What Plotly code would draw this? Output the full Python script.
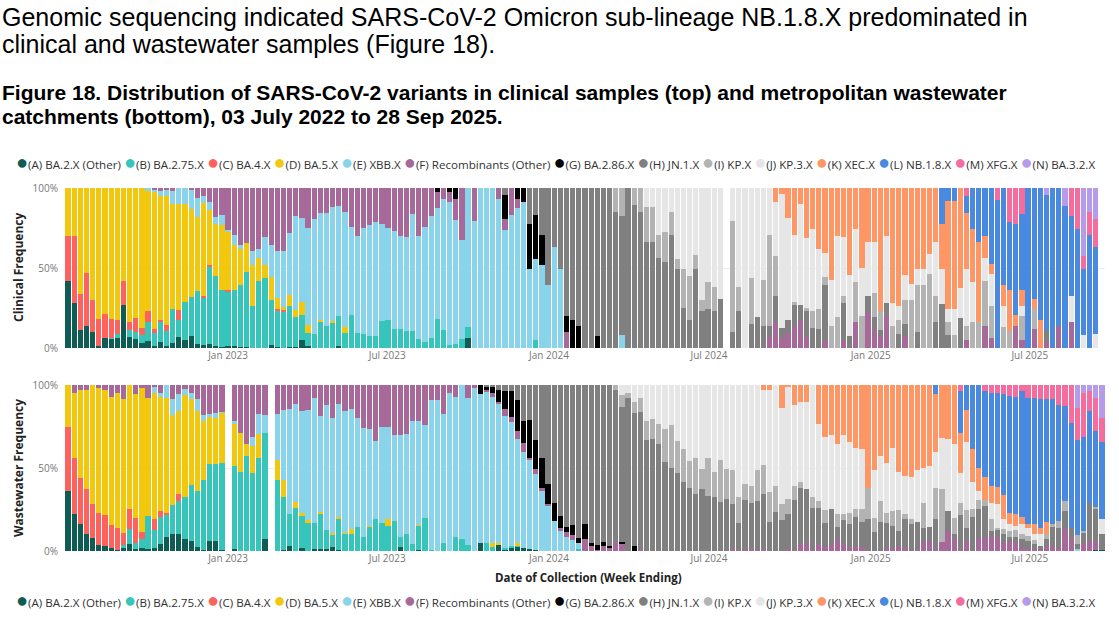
import pandas as pd
import plotly.graph_objects as go
from plotly.subplots import make_subplots

N_WEEKS = 169
week_ending = pd.date_range("2022-07-03", periods=N_WEEKS, freq="7D")

variant_names = [
    "(A) BA.2.X (Other)", "(B) BA.2.75.X", "(C) BA.4.X", "(D) BA.5.X", "(E) XBB.X",
    "(F) Recombinants (Other)", "(G) BA.2.86.X", "(H) JN.1.X", "(I) KP.X", "(J) KP.3.X",
    "(K) XEC.X", "(L) NB.1.8.X", "(M) XFG.X", "(N) BA.3.2.X",
]
variant_colors = [
    "#0F5C55", "#36C5BA", "#FD625E", "#F2C80F", "#8AD4EB",
    "#A66999", "#000000", "#808080", "#B3B3B3", "#E6E6E6",
    "#FE9666", "#4A89E0", "#F46D9E", "#B59BEA",
]
tick_dates = ["2023-01-01", "2023-07-01", "2024-01-01", "2024-07-01", "2025-01-01", "2025-07-01"]
y_ticks = [0, 50, 100]
y_tick_text = ["0%", "50%", "100%"]


def weeks(*parts):
    # runs of (first week index, weekly values); every other week is 0
    out = [0.0] * N_WEEKS
    for start, vals in parts:
        out[start:start + len(vals)] = vals
    return out


# ---- clinical samples (% of week) ----
clin_a = weeks((0, [42, 28, 11, 14, 10, 1.5, 6, 6, 6, 27,
                    7, 5.6, 3, 4.4, 1.5, 3.5, 1, 3, 7, 5,
                    7.7, 2.7, 2, 2.7, 1, 0.6, 1.5, 1, 0.6, 0.4,
                    0, 0, 0, 2.1, 0.5, 0, 0.4, 0.6, 4.8, 1.5,
                    0, 0, 0, 0, 1, 0, 0, 0, 0, 0,
                    0, 0, 0, 0, 0, 0, 0, 0, 0, 0,
                    0, 0, 0, 0, 0, 6.3]))
clin_b = weeks((0, [0, 0, 0, 0, 0, 0, 0, 0.5, 2.5, 0,
                    4.5, 4.4, 5.3, 11.6, 8, 12.5, 9.6, 21.4, 10.7, 23.5,
                    24.3, 32.7, 29.7, 48.3, 44, 35.4, 33.9, 35, 39, 46.9,
                    26, 41.7, 43.7, 27.7, 22.8, 23, 25.6, 18.8, 16, 7.9,
                    9, 16.7, 13.5, 15.6, 18.8, 9.4, 20.8, 9.4, 8.8, 7.7,
                    7.7, 17, 17.3, 12, 12, 10.4, 10.4, 5.8, 4, 6.3,
                    18, 11, 1.7, 2.5, 5.8, 6.8, 0, 0, 0, 0,
                    0, 0, 0, 0, 0, 0, 5.2]))
clin_c = weeks((0, [28, 42, 23, 33, 20, 16.5, 15, 11.5, 9, 15,
                    5, 9, 4.4, 7, 2.5, 1.7, 3.8, 0, 6.3, 0,
                    0, 0, 0.5, 0.7, 0, 0, 0.6, 0, 0, 0,
                    0, 0, 0, 0, 1.3, 0.6]))
clin_d = weeks((0, [30, 30, 66, 53, 70, 82, 79, 82, 82.5, 58,
                    83.5, 81, 87.3, 75, 85.5, 77, 80.4, 65.6, 66, 61.5,
                    55, 46.6, 58.4, 34.8, 32.7, 41, 37, 28.6, 22, 18.3,
                    26, 14.3, 8.3, 14.6, 6.7, 2, 7, 4.6, 7.7, 5.2,
                    0, 0.6, 0, 1.5, 0, 3.7]))
clin_e = weeks((13, [2, 1.5, 3.5, 3.7, 8, 10, 10,
                     11.5, 12, 4.4, 4.5, 4.3, 6.3, 1, 6.2, 3, 0,
                     8.4, 6, 17.4, 20.2, 29.1, 34.8, 38.9, 58.3, 52.8, 60.4,
                     71.6, 67.1, 70.9, 70.9, 68.7, 71.7, 54.8, 60.8, 66.2, 69.3,
                     70.8, 60.7, 57.7, 61, 58.2, 58.8, 73.4, 64, 71.4, 76.4,
                     69.5, 82, 89.6, 77.3, 61.9, 86.9, 79.2, 100, 100, 100,
                     93.1, 73.5, 83, 87.5, 91, 49.4, 50.4, 52, 39.6, 63,
                     49.4]), (90, [8.3]))
clin_f = weeks((14, [1, 1.8, 1.5, 2, 0, 0,
                     1.5, 6, 5, 9, 18, 16.7, 26, 29.2, 35.4, 34.4,
                     39.6, 38, 30.6, 35.4, 39.6, 39.6, 28.1, 17.7, 18.7, 25,
                     19.4, 15.6, 15.6, 12, 11.5, 15.2, 24.4, 29.8, 25, 23,
                     21.5, 22.3, 25, 27, 29.8, 30.8, 16.2, 30.2, 24.6, 17.3,
                     9.8, 7, 6, 13.3, 32.3, 0, 20.8, 0, 0, 0,
                     6.9, 7.3, 17, 5.6, 0, 0, 0, 0, 0, 0, 0, 9.8]),
               (114, [6.9, 16, 6.3, 9.4, 14, 17.7, 6.9, 0, 0, 4.6, 0, 0, 4.6, 0, 16, 0,
                      21.9, 11.5, 7.3, 20.8, 0, 0, 7.3]),
               (146, [5.2, 0, 0, 14, 6.3, 0, 0, 0, 14, 4.8, 0, 12, 0, 3.5, 0, 14, 0, 16]))
clin_g = weeks((60, [2.7, 0, 2.7, 6.9]),
               (71, [15, 0, 6.9, 9, 28.3, 27.7, 18.8, 0, 0, 0, 10, 17.7, 14, 0, 0, 7.3]))
clin_h = weeks((71, [4.2]),
               (75, [22.3, 16.7, 29.2, 60.4, 37, 50.6, 80.2, 82.3, 86, 100,
                     100, 92.7, 100, 100, 84.8, 74.4, 100, 89.6, 84.8, 66,
                     66.5, 56, 54, 70.8, 49.4, 24.8, 17.7, 49.4, 22.9, 24.4,
                     22.9, 30.6, 0, 10, 22.9, 0, 15.2, 19.4, 13.5, 7.1,
                     16.7, 6, 8.3, 13, 9.4, 16, 12.5, 11.9, 34.8, 0,
                     0, 23.4, 7.3, 0, 0, 10.8, 8, 4.2, 7.3, 0,
                     9, 7.7, 0, 10, 0, 0, 16.3, 27.7, 8.3, 0, 18.8]),
               (159, [7.3]))
clin_i = weeks((89, [15.2, 17.3, 0, 10.4, 15.2, 22, 21.7, 14.8, 18.3, 14,
                     6.2, 24.6, 27.5, 8.6, 7.3, 16.6, 15.2, 0, 0, 69.6,
                     15.2, 0, 28.6, 0, 28.8, 56.8, 25, 0, 0, 2,
                     0, 2.1, 10.5, 12.5, 4.8, 14, 19.4, 4.7, 0, 25,
                     20, 0, 15, 11.4, 0, 14, 8.7, 15.2, 30, 29.6,
                     39.6, 46.5, 16.4, 0, 7.7, 8.3, 0, 8.8, 16, 16,
                     28, 20.2, 0, 13, 10.4, 0, 15.4, 0, 12.4]))
clin_j = weeks((94, [12, 11.8, 29.2, 27.7, 15.2, 44.4, 50.6, 54.8, 42, 69.8,
                     59, 61.9, 69.4, 0, 20.4, 61.9, 100, 56.2, 80.6, 57.7,
                     29.2, 33.3, 84, 63.6, 41.8, 63.1, 43.8, 51.6, 37.5, 15.2,
                     28.3, 50.4, 36.7, 38.5, 33.4, 30, 33.3, 31.5, 0, 41.7,
                     14.1, 8.8, 15.6, 10, 9.8, 9.8, 12.5, 33.3, 21.7, 8.4,
                     16.1, 18.7, 35.4, 25, 0, 14, 20, 0, 13.1, 0,
                     0, 5.8, 0, 0, 0, 0, 0, 0, 0, 16.7, 0, 8.3, 0, 9]))
clin_k = weeks((115, [9, 3.7, 18.7, 29.2, 9.8, 31.2, 25.4, 38.1, 40.6, 57.7,
                      30.2, 30.6, 54.2, 25.6, 50, 34, 34, 77.1, 30.2, 71.9,
                      73.5, 54.2, 60, 50.6, 50.6, 41, 34, 28.3, 67.3, 67.3,
                      62.5, 35, 33.4, 50, 14, 6.2, 0, 13.1, 26.1, 6.8,
                      10.5, 0, 6.2, 17.3]))
clin_l = weeks((142, [22.3, 8.3, 8.3, 0, 10.4, 25.6, 34, 30, 47.3, 92.3,
                      60.8, 42, 56.9, 47.5, 100, 69.4, 82.7, 85, 100, 86,
                      89, 50, 74.4, 41.1, 70.8, 54.1]))
clin_m = weeks((146, [5.2]), (151, [7.7, 0, 21.5, 22.3, 16]), (163, [17.3, 25.6, 8.3, 14, 17.5]))
clin_n = weeks((159, [4.2]), (162, [11]), (165, [42.3, 15.2, 19.4]))
clin_missing = [107, 168]

# ---- metropolitan wastewater catchments (% of week) ----
ww_a = weeks((0, [36.1, 22.1, 16.1, 10.4, 8, 3.6, 3, 2, 0.6, 2.4,
                  4.4, 1.4, 2, 1, 2, 4, 8.4, 10, 10, 7,
                  6, 2.4, 0.6, 6, 6, 0.6, 0, 1.4, 0, 0,
                  0, 0, 7, 0, 0, 0.4, 3.2, 0, 2, 0,
                  1.4, 1, 1, 2.4, 0.6, 0, 0, 0, 0, 0,
                  0, 0, 0, 0, 2.4, 0, 0, 0.6, 0, 0,
                  0, 0, 0, 0, 0, 0, 0, 5, 0, 0,
                  3.4, 1, 2, 3, 2, 1, 0.6]),
             (167, [0.6, 0.6]))
ww_b = weeks((9, [1, 8.6, 3.6, 5, 20, 10.4, 16.5, 13.7, 17.5, 20.1,
                  25.5, 33.6, 33.7, 42.2, 46.6, 46.6, 52.4, 0, 49.8, 47.8,
                  57.4, 47.2, 55.8, 64.3, 0, 42.6, 32.1, 19.3, 25.7, 19,
                  17, 15.3, 21.1, 11.4, 7.6, 18.4, 10.4, 10.4, 14.5, 8.6,
                  14.5, 19.5, 17, 15, 18, 6.2, 10, 4.4, 14.9, 20.1,
                  0.4, 0, 4.6, 0, 8.4, 7.4, 3.4, 0, 0, 4.6,
                  2.6, 0, 1, 1, 0.6, 0, 0, 0, 0, 0,
                  0, 0, 0, 0, 1]))
ww_c = weeks((0, [38.6, 34.1, 28.1, 27.2, 20.5, 19.5, 18.5, 13.5, 13.1, 7.6,
                  12.1, 14.7, 4.6, 0, 6.6, 3.5, 0.9, 0, 4]))
ww_d = weeks((0, [25.3, 39.2, 52.6, 59.2, 71.5, 75.3, 75.3, 77.3, 81.7, 80.4,
                  74.9, 75.1, 86.8, 71.4, 76.4, 68.8, 69.4, 54.5, 50.2, 61.5,
                  51.8, 48.2, 35.5, 28.1, 27.7, 30.3, 0, 25.1, 23.5, 6.9,
                  16.1, 14.9, 0, 0, 12, 10.1, 0, 4, 1.7, 1.7,
                  0, 1.6, 0, 0.8, 1.5, 0.6, 3.1, 0, 0, 0.8,
                  0, 0, 4.3, 0, 0, 0, 0, 0.4, 0, 0,
                  0, 0, 0, 0, 0, 0, 0, 0, 0, 2,
                  1.2, 0, 0, 1]))
ww_e = weeks((14, [3.4, 2.6, 7.6, 9.4, 10.1, 3.8,
                   4, 7.1, 3.7, 2, 3, 0.4, 0, 2, 0, 0,
                   5.4, 11.6, 10.4, 0, 27.7, 42.1, 62.8, 59.1, 61.6, 66,
                   75.7, 57.6, 75.6, 69.2, 68.3, 73.3, 72.2, 65.8, 65.7, 58,
                   46.8, 57.7, 55.4, 51.9, 61.3, 60.7, 73.9, 62.4, 55.8, 90.4,
                   90.8, 78.1, 95.4, 84.6, 92.6, 89, 98.4, 89.4, 91.4, 88.2,
                   84.2, 79.3, 74.9, 62.7, 57.8, 54.2, 45.6, 36.1, 27.1, 18.1,
                   12, 8.4, 6.4, 4]),
             (164, [1]))
ww_f = weeks((1, [4.6, 3.2, 3.2, 0, 1.6, 3.2, 7.2, 4.6, 8.6,
                  0, 5.2, 1.6, 7.6, 1.2, 4.6, 0, 8.6, 5.6, 2.2,
                  4.6, 8.6, 18, 17.3, 16.7, 16.3, 0, 21.7, 28.7, 35.7,
                  31.3, 17.7, 18.3, 0, 17.7, 15.3, 14.7, 11.2, 15.7, 15.3,
                  7.6, 18.7, 12, 20, 11.2, 15.7, 14.3, 19.7, 25.7, 26.7,
                  33.7, 25.3, 25.3, 30.1, 30.1, 29.3, 21.7, 21.7, 24.1, 9.2,
                  9.2, 17.3, 4.6, 7, 0, 7.6, 1.6, 0, 0.8, 2.6,
                  1.2, 4, 2.8, 5, 5.5, 1, 3, 2.1, 1.4, 0,
                  1.7, 3.2, 3.2, 0, 7.4, 3, 0.4, 3, 2, 5.4,
                  4, 0, 0, 1]),
             (108, [1, 0, 0.6, 1, 0.6, 1, 0, 0, 0, 1,
                    0, 4.4, 4.6, 0.4, 4, 2.4, 3.4, 7, 4.4, 2,
                    2.4, 2.4, 0, 0, 0, 2, 2, 3, 1.6, 0,
                    1, 6, 6, 0.4, 5.6, 12, 7, 0.6, 6, 0.4,
                    8, 8, 9, 8.4, 5, 6, 5.6, 2, 1, 1,
                    0.4, 3, 3, 2, 13, 8, 0, 4, 6, 5.4]))
ww_g = weeks((67, [5.6, 2, 3.4, 7, 11.1, 15.7, 18.5, 13, 22.5, 17.5,
                   18, 12.1, 11, 7.4, 2.9, 5.9, 3, 8.6, 2, 3,
                   2.6, 1, 0, 1.6, 0, 3]))
ww_h = weeks((68, [1.2, 1.2, 3, 3.6, 3.6, 9.2, 21.7, 21.3, 33.3, 43.8,
                   59.4, 70.9, 78.9, 85.5, 84.5, 92, 84, 95, 96.6, 94.4,
                   97, 91.6, 81.4, 92, 80.3, 83, 66.7, 67.7, 64.3, 53.8,
                   50.2, 46.8, 41.8, 38.2, 34.5, 37.1, 33.1, 32.7, 29.7, 31.1,
                   27.1, 17.1, 29.9, 28.1, 29.5, 33.5, 17.7, 23.7, 18.5, 21.1,
                   30.5, 33.8, 32.5, 25.3, 21.7, 14.7, 21.7, 7.7, 14.1, 14.1,
                   18.1, 15.1, 19.1, 11.6, 17.5, 15.1, 13.1, 9, 17.5, 16.1,
                   16.7, 7.7, 8.5, 19.1, 0, 12.1, 3.4, 20.9, 8, 20.1,
                   17.1, 19.1, 3, 4.6, 5.4, 2.4, 2.8, 5, 5, 3,
                   2.6, 4, 11.5, 12, 11.1, 6, 3, 7, 23.1, 19.1,
                   9.8]))
ww_i = weeks((89, [3, 7, 3.4, 6.7, 8.4, 11.6, 11.6, 12.4, 19.9, 25.7,
                   19.5, 19.8, 16, 21.7, 12.1, 23.1, 15.1, 24.9, 18.1, 20.5,
                   15.4, 10.1, 10.1, 18.5, 17.3, 18, 15.5, 10, 9, 8.7,
                   3.6, 0, 6.8, 4.4, 7.4, 0, 7.4, 3.6, 7, 5,
                   8, 18.7, 8.5, 12.6, 6, 9, 12.5, 3, 3, 0,
                   15.4, 0, 18.3, 31.5, 0, 9.3, 7.6, 10.5, 4.6, 5.6,
                   3.4, 7.1, 1, 2.6, 3.6, 4, 3.4, 3, 2.4, 0,
                   3.4, 1.6, 4.1, 6, 0, 5.6, 1, 0, 1.6]))
ww_j = weeks((90, [6, 4.6, 10, 7.6, 21.7, 20.7, 23.3, 26.3, 24.1, 33.7,
                   38.4, 45.8, 43.8, 50.8, 43.8, 52.2, 45.4, 50.8, 51.4, 67.5,
                   59.4, 60.8, 51.4, 45, 61.1, 60.8, 57.4, 67.7, 48.8, 48.2,
                   52.9, 67.5, 46.2, 44.4, 44.8, 42.6, 47.8, 42.8, 36.3, 35.7,
                   0, 28.5, 27.1, 30.1, 38.1, 23.3, 23.1, 25.5, 30.9, 21.1,
                   36.7, 22, 31.2, 43.6, 45, 18.1, 41.4, 16.7, 5.4, 0,
                   10, 14.1, 6.1, 4.1, 2.7, 5.7, 5.1, 3.6, 7, 0,
                   0, 0, 0, 0, 0, 0, 0, 0, 8.7]))
ww_k = weeks((113, [3.2, 3.2, 0, 14.1, 1.2, 12, 10, 10, 0, 23.7,
                    31.1, 30.1, 35.3, 30.1, 34.1, 38.2, 38.8, 62.2, 51.4, 42.8,
                    46.8, 37.8, 52.2, 54.8, 55.4, 51.4, 49.8, 48.8, 34.6, 31.7,
                    32.3, 35.3, 24.1, 18.8, 19.8, 13.7, 14.1, 10.1, 10.5, 14.6,
                    7, 7, 4.4, 2, 6.5, 3.7, 7.3]))
ww_l = weeks((141, [5.6, 0, 0, 0, 25.1, 15.3, 38.4, 50.2, 51.8, 56.2,
                    56.8, 60.7, 70.3, 70.7, 75.9, 76.3, 75.9, 77.7, 73.7, 75.3,
                    69.9, 57.2, 63.3, 57.1, 56.7, 55.2, 45.8, 46.8]))
ww_m = weeks((145, [3.6, 0, 0, 0, 3.6, 4.6, 4.6, 5.6, 6.6, 7.2,
                    3.6, 7.6, 7.6, 8.6, 8.6, 8.6, 12, 12.7, 22.7, 19.2,
                    26.7, 12.1, 19.5, 14.4]))
ww_n = weeks((164, [14.1, 4.6, 3.6, 8, 19.7]))
ww_missing = [26, 33]

clinical = [clin_a, clin_b, clin_c, clin_d, clin_e, clin_f, clin_g,
            clin_h, clin_i, clin_j, clin_k, clin_l, clin_m, clin_n]
wastewater = [ww_a, ww_b, ww_c, ww_d, ww_e, ww_f, ww_g,
              ww_h, ww_i, ww_j, ww_k, ww_l, ww_m, ww_n]

W, H = 1119, 619
# plot area in pixels (left, right, top, bottom)
PL, PR, PT, PB = 65, 1105, 188, 551


def px_x(x):
    return (x - PL) / (PR - PL)


def px_y(y):
    return (PB - y) / (PB - PT)


fig = make_subplots(rows=2, cols=1)

for row, (panel, missing) in enumerate([(clinical, clin_missing), (wastewater, ww_missing)], start=1):
    for name, color, vals in zip(variant_names, variant_colors, panel):
        y = [None if i in missing else v for i, v in enumerate(vals)]
        fig.add_trace(go.Bar(x=week_ending, y=y, name=name, marker_color=color,
                             marker_line_width=0, showlegend=False), row=row, col=1)

legend_text = " ".join(
    f"<span style='color:{c};font-size:20px'>●</span>{n}"
    for n, c in zip(variant_names, variant_colors)
)

axis_font = dict(family="Open Sans", size=10, color="#777777")
title_font = dict(family="Open Sans", size=12, color="#222222")
head_font = dict(family="Liberation Sans", size=25, color="#000000")
fig_font = dict(family="Liberation Sans", size=21, color="#000000")
legend_font = dict(family="Open Sans", size=11.6, color="#333333")

xax = dict(type="date", range=["2022-06-29 12:00", "2025-09-24 12:00"],
           tickvals=tick_dates, tickformat="%b %Y", showgrid=False, zeroline=False,
           tickfont=axis_font, ticks="", showline=False)
yax = dict(range=[0, 100], tickmode="array", tickvals=y_ticks, ticktext=y_tick_text,
           tickfont=axis_font, ticklabelstandoff=6,
           gridcolor="#EDEDED", zeroline=False, showline=False)


def note(text, x, y, font, **kw):
    return dict(text=text, xref="paper", yref="paper", x=px_x(x), y=px_y(y),
                showarrow=False, font=font, **kw)


fig.update_layout(
    width=W, height=H,
    margin=dict(l=PL, r=W - PR, t=PT, b=H - PB),
    barmode="stack", barnorm="percent", bargap=0.14,
    plot_bgcolor="white", paper_bgcolor="white",
    xaxis=dict(xax, anchor="y"),
    xaxis2=dict(xax, anchor="y2"),
    yaxis=dict(yax, domain=[px_y(348), 1]),
    yaxis2=dict(yax, domain=[0, px_y(385)]),
    annotations=[
        note("Genomic sequencing indicated SARS-CoV-2 Omicron sub-lineage NB.1.8.X predominated in",
             0, 17, head_font, xanchor="left", yanchor="middle"),
        note("clinical and wastewater samples (Figure 18).",
             0, 44, head_font, xanchor="left", yanchor="middle"),
        note("<b>Figure 18. Distribution of SARS-CoV-2 variants in clinical samples (top) and metropolitan wastewater</b>",
             0, 92, fig_font, xanchor="left", yanchor="middle"),
        note("<b>catchments (bottom), 03 July 2022 to 28 Sep 2025.</b>",
             0, 117, fig_font, xanchor="left", yanchor="middle"),
        note(legend_text, 14, 161, legend_font, xanchor="left", yanchor="middle"),
        note(legend_text, 14, 599, legend_font, xanchor="left", yanchor="middle"),
        note("<b>Clinical Frequency</b>", 18, 268, title_font, textangle=-90,
             xanchor="center", yanchor="middle"),
        note("<b>Wastewater Frequency</b>", 18, 468, title_font, textangle=-90,
             xanchor="center", yanchor="middle"),
        note("<b>Date of Collection (Week Ending)</b>", 588, 577,
             dict(family="Open Sans", size=11.5, color="#222222"),
             xanchor="center", yanchor="middle"),
    ],
)

# the page keeps its default 8px body margin otherwise; drop it so the figure fills the window
fig.write_html("out.html", config={"displayModeBar": False},
               post_script="document.body.style.margin = '0';")
